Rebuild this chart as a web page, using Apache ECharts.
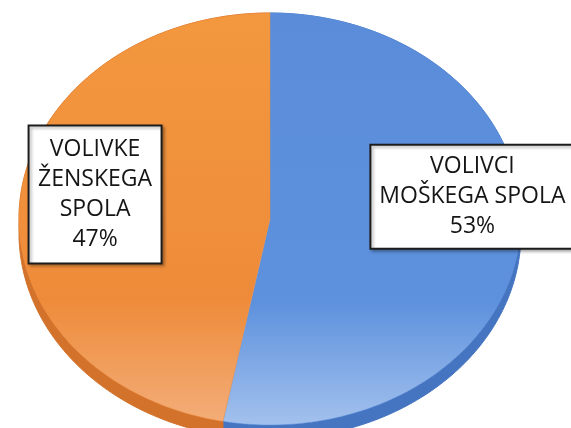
<!DOCTYPE html>
<html>
<head>
<meta charset="utf-8">
<script src="https://cdn.jsdelivr.net/npm/echarts@6/dist/echarts.min.js"></script>
<style>
  html, body { margin: 0; padding: 0; background: #fff; }
  #main { width: 571px; height: 428px; }
</style>
</head>
<body>
<div id="main"></div>
<script>
// data
var categories = ['VOLIVCI\nMOŠKEGA SPOLA', 'VOLIVKE\nŽENSKEGA\nSPOLA'];
var values = [53, 47];

// look
var topColors = [
  ['#5a8cda', '#5d91dd', '#a3c1ed'],
  ['#f3983f', '#ee8b3a', '#f3ad78']
];
var sideColors = ['#4574c0', '#d2722b'];
var labelBox = [{ w: 204, h: 104, f: 0.81, dy: -38 }, { w: 133, h: 138, f: 0.70, dy: -11 }];

// tilted pie geometry
var cx = 270, cy = 219, rx = 251, ry = 206, depth = 14;
var total = values.reduce(function (s, v) { return s + v; }, 0);

function sliceAngles(i) {
  var before = 0;
  for (var j = 0; j < i; j++) before += values[j];
  return [90 - before / total * 360, 90 - (before + values[i]) / total * 360];
}

function pt(deg, dy) {
  var r = deg * Math.PI / 180;
  return [cx + rx * Math.cos(r), cy - ry * Math.sin(r) + (dy || 0)];
}

function renderItem(params, api) {
  var i = params.dataIndex;
  var a = sliceAngles(i);
  var steps = 160;
  var arc = [];
  for (var k = 0; k <= steps; k++) {
    arc.push(pt(a[0] + (a[1] - a[0]) * k / steps));
  }
  var low = arc.slice().reverse().map(function (p) { return [p[0], p[1] + depth]; });
  var side = arc.concat(low);
  var face = [[cx, cy]].concat(arc);

  var mid = (a[0] + a[1]) / 2 * Math.PI / 180;
  var lb = labelBox[i];
  var bx = cx + lb.f * rx * Math.cos(mid);
  var by = cy - lb.f * ry * Math.sin(mid) + lb.dy;
  var c = topColors[i];

  return {
    type: 'group',
    children: [
      {
        type: 'polygon',
        z2: 1,
        shape: { points: side },
        style: { fill: sideColors[i], stroke: sideColors[i], lineWidth: 1 }
      },
      {
        type: 'polygon',
        z2: 10,
        shape: { points: face },
        style: {
          fill: new echarts.graphic.LinearGradient(0, 0, 0, 1, [
            { offset: 0, color: c[0] },
            { offset: 0.7, color: c[1] },
            { offset: 1, color: c[2] }
          ]),
          stroke: c[1],
          lineWidth: 0.5
        }
      },
      {
        type: 'rect',
        z2: 100,
        shape: { x: bx - lb.w / 2, y: by - lb.h / 2, width: lb.w, height: lb.h },
        style: {
          fill: '#ffffff',
          stroke: '#1c1c1c',
          lineWidth: 2,
          shadowBlur: 3,
          shadowColor: 'rgba(0,0,0,0.3)',
          shadowOffsetX: 2,
          shadowOffsetY: 2
        }
      },
      {
        type: 'text',
        z2: 101,
        x: bx,
        y: by,
        style: {
          text: categories[i] + '\n' + api.value(0) + '%',
          fill: '#151515',
          font: '23px "Open Sans"',
          align: 'center',
          verticalAlign: 'middle',
          lineHeight: 30
        }
      }
    ]
  };
}

var myChart = echarts.init(document.getElementById('main'));
var option = {
  animation: false,
  series: [{
    type: 'custom',
    coordinateSystem: 'none',
    silent: true,
    renderItem: renderItem,
    data: values.map(function (v, i) { return { name: categories[i], value: v }; })
  }]
};
myChart.setOption(option);
</script>
</body>
</html>
